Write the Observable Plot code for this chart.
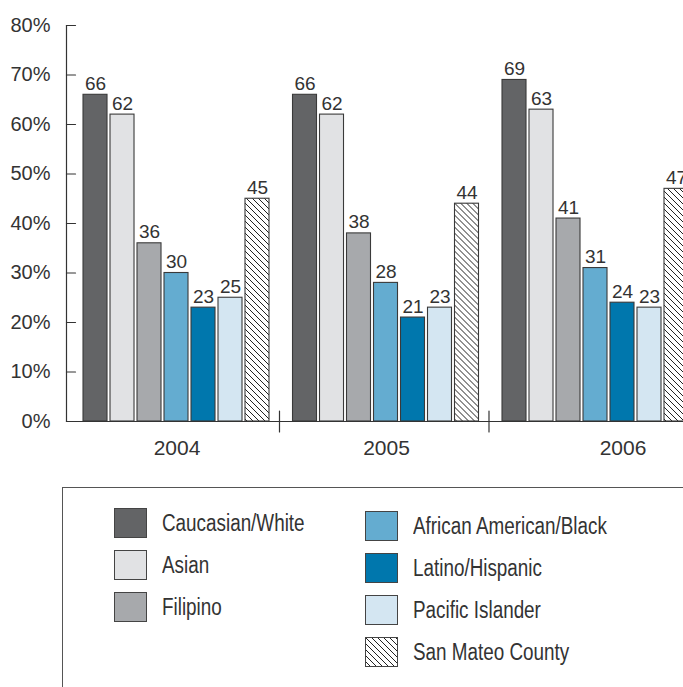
<!DOCTYPE html>
<html>
<head>
<meta charset="utf-8">
<script src="https://cdn.jsdelivr.net/npm/d3@7"></script>
<script src="https://cdn.jsdelivr.net/npm/@observablehq/plot@0.6"></script>
<style>
  html, body { margin: 0; padding: 0; background: #fff; overflow: hidden; width: 683px; height: 687px; }
  #chart { position: absolute; left: 0; top: 0; }
  #legend { position: absolute; left: 62px; top: 487px; width: 700px; height: 300px; border: 1px solid #555; box-sizing: border-box; }
  .col { position: absolute; top: 20px; }
  .item { display: flex; align-items: center; height: 30px; margin-bottom: 12px; }
  .item svg { flex: none; }
  .item span { margin-left: 15px; font-family: "Liberation Sans", Arial, sans-serif; font-size: 23px; color: #333; white-space: nowrap; display: inline-block; transform: scaleX(0.82); transform-origin: left center; }
</style>
</head>
<body>
<svg width="0" height="0" style="position:absolute">
  <defs>
    <pattern id="hatch" patternUnits="userSpaceOnUse" width="6" height="6">
      <rect width="6" height="6" fill="#fff"></rect>
      <path d="M-1,-1L7,7M-1,5L1,7M5,-1L7,1" stroke="#222" stroke-width="1"></path>
    </pattern>
  </defs>
</svg>
<div id="chart"></div>
<div id="legend"></div>
<script>
const years = [2004, 2005, 2006];
const categories = ["Caucasian/White", "Asian", "Filipino", "African American/Black", "Latino/Hispanic", "Pacific Islander", "San Mateo County"];
const colors = ["#636466", "#e1e2e4", "#a7a9ac", "#64acd0", "#0077ad", "#d4e6f2", "url(#hatch)"];
const values2004 = [66, 62, 36, 30, 23, 25, 45];
const values2005 = [66, 62, 38, 28, 21, 23, 44];
const values2006 = [69, 63, 41, 31, 24, 23, 47];
const yTicks = [0, 10, 20, 30, 40, 50, 60, 70, 80];
const separatorYears = [2005, 2006];

const seriesByYear = [values2004, values2005, values2006];
const data = years.flatMap((year, i) => categories.map((cat, j) => ({year, cat, value: seriesByYear[i][j]})));

const lineShape = { draw(context, l) { context.moveTo(0, 0); context.lineTo(0, -l); } };
const ink = "#333";
const numFont = "'Liberation Sans', Arial, sans-serif";

const chart = Plot.plot({
  width: 688,
  height: 471,
  marginLeft: 66,
  marginRight: 0,
  marginTop: 25,
  marginBottom: 50,
  style: { maxWidth: "none", overflow: "visible", fontFamily: numFont, color: ink, background: "transparent" },
  fx: { domain: years, paddingInner: 0.031, paddingOuter: 0, round: false, axis: null, label: null },
  x: { domain: categories, paddingInner: 0.111, paddingOuter: 0.315, align: 1, round: false, axis: null },
  y: { domain: [0, 80], axis: null },
  color: { domain: categories, range: colors },
  marks: [
    Plot.barY(data, { fx: "year", x: "cat", y: "value", fill: "cat", stroke: "#3a3a3a", strokeWidth: 1.1 }),
    Plot.text(data, { fx: "year", x: "cat", y: "value", text: d => String(d.value), lineAnchor: "bottom", dy: -5, fontSize: 19, fill: ink }),
    Plot.ruleY([0], { stroke: ink, strokeWidth: 1.2, insetRight: -7 }),
    Plot.frame({ anchor: "left", facetAnchor: "left", stroke: ink, strokeWidth: 1.2 }),
    Plot.axisY({ ticks: yTicks, tickSize: 0, tickPadding: 16, tickFormat: d => d + "%", fontSize: 20, label: null, fill: ink }),
    Plot.vector(yTicks, { y: d => d, frameAnchor: "left", facetAnchor: "left", rotate: 90, length: 9, anchor: "start", shape: lineShape, stroke: ink, strokeWidth: 1.2 }),
    Plot.vector(separatorYears, { fx: d => d, y: 0, frameAnchor: "left", dx: 3.5, rotate: 0, length: 21, anchor: "middle", shape: lineShape, stroke: ink, strokeWidth: 1.2 }),
    Plot.text(years.slice(0, 2), { fx: d => d, text: d => String(d), frameAnchor: "bottom", lineAnchor: "middle", dx: 9, dy: 27, fontSize: 21, fill: ink }),
    Plot.text(years.slice(2), { fx: d => d, text: d => String(d), frameAnchor: "bottom", lineAnchor: "middle", dx: 36, dy: 27, fontSize: 21, fill: ink })
  ]
});
document.getElementById("chart").appendChild(chart);

// Legend
const legend = document.getElementById("legend");
const groups = [categories.slice(0, 3), categories.slice(3)];
const colLefts = [51, 302];
const colTops = [20, 23];
groups.forEach((cats, gi) => {
  const col = document.createElement("div");
  col.className = "col";
  col.style.left = colLefts[gi] + "px";
  col.style.top = colTops[gi] + "px";
  cats.forEach(cat => {
    const item = document.createElement("div");
    item.className = "item";
    const fill = colors[categories.indexOf(cat)];
    item.innerHTML = `<svg width="33" height="30"><rect x="0.5" y="0.5" width="32" height="29" fill="${fill}" stroke="#444" stroke-width="1"></rect></svg><span>${cat}</span>`;
    col.appendChild(item);
  });
  legend.appendChild(col);
});
</script>
</body>
</html>
